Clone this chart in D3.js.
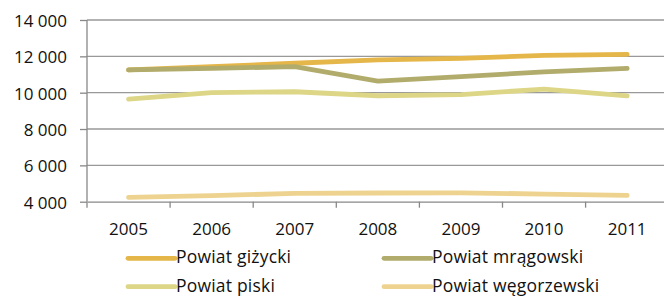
<!DOCTYPE html>
<html><head><meta charset="utf-8">
<script src="https://cdn.jsdelivr.net/npm/d3@7"></script>
<style>body{margin:0;background:#fff;overflow:hidden}svg{display:block}</style>
</head><body>
<svg id="c" width="664" height="296"></svg>
<script>
const years = ["2005","2006","2007","2008","2009","2010","2011"];
const seriesNames = ["Powiat giżycki","Powiat mrągowski","Powiat piski","Powiat węgorzewski"];
const gizycki    = [11250,11430,11620,11800,11890,12050,12110];
const mragowski  = [11250,11340,11430,10640,10880,11150,11340];
const piski      = [9650,10000,10050,9830,9890,10200,9830];
const wegorzewski= [4240,4330,4460,4480,4490,4420,4350];
const yTicks = [4000,6000,8000,10000,12000,14000];
const colors = ["#E5B649","#B1AC6C","#DCD686","#EDD38F"];

const seriesValues = [gizycki, mragowski, piski, wegorzewski];
const svg = d3.select("#c");
const font = "Open Sans, sans-serif";

const x = d3.scaleBand().domain(years).range([87, 668.7]);
const y = d3.scaleLinear().domain([4000,14000]).range([201.7, 20]);

// gridlines
svg.append("g").selectAll("line").data(yTicks.slice(1)).join("line")
  .attr("x1", 87).attr("x2", 668.7)
  .attr("y1", d=>y(d)).attr("y2", d=>y(d))
  .attr("stroke", "#999").attr("stroke-width", 1.3);

// y axis
const ya = svg.append("g").attr("transform","translate(87,0)")
  .call(d3.axisLeft(y).tickValues(yTicks).tickSize(7).tickPadding(13)
    .tickFormat(d => d3.format(",")(d).replace(",", " ")));
ya.select(".domain").attr("stroke","#888").attr("stroke-width",1.3).attr("d","M0,20V201.7");
ya.selectAll(".tick line").attr("stroke","#888").attr("stroke-width",1.3);
ya.selectAll("text").attr("font-family",font).attr("font-size","17px").attr("fill","#111").attr("dy","0.38em");

// x axis
const xa = svg.append("g").attr("transform","translate(0,201.7)")
  .call(d3.axisBottom(x).tickSize(0).tickPadding(21));
xa.select(".domain").attr("stroke","#888").attr("stroke-width",1.3);
xa.selectAll("text").attr("font-family",font).attr("font-size","17px").attr("fill","#111");
// boundary tick marks
xa.append("g").selectAll("line").data(years).join("line")
  .attr("x1", d=>x(d)).attr("x2", d=>x(d)).attr("y1",0).attr("y2",6)
  .attr("stroke","#888").attr("stroke-width",1.3);

const line = d3.line().x((d,i)=>x(years[i]) + x.bandwidth()/2).y(d=>y(d));
// draw order: back to front
[3,2,0,1].forEach(k=>{
  svg.append("path").datum(seriesValues[k]).attr("d", line)
    .attr("fill","none").attr("stroke",colors[k]).attr("stroke-width",4.8)
    .attr("stroke-linecap","round").attr("stroke-linejoin","round");
});

// legend
const legPos = [[128,258.3],[384,258.3],[128,286.7],[384,286.7]];
seriesNames.forEach((n,i)=>{
  const [lx,ly] = legPos[i];
  svg.append("line").attr("x1",lx).attr("x2",lx+47).attr("y1",ly).attr("y2",ly)
    .attr("stroke",colors[i]).attr("stroke-width",4.8).attr("stroke-linecap","round");
  svg.append("text").attr("x",lx+48).attr("y",ly+5).text(n)
    .attr("font-family",font).attr("font-size","17.5px").attr("fill","#111")
    .attr("letter-spacing","0.2px");
});
</script>
</body></html>
